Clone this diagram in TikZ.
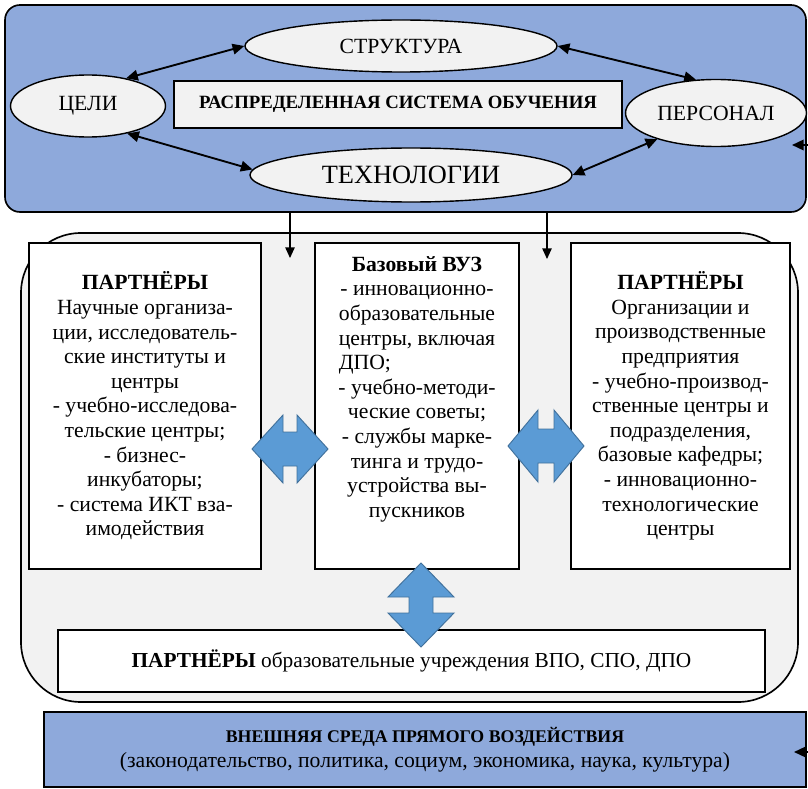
\documentclass[tikz,border=0pt]{standalone}
\usepackage{fontspec}
\setmainfont{Liberation Serif}
\usetikzlibrary{shapes.geometric,arrows.meta,positioning}

\definecolor{frameblue}{RGB}{142,169,219}
\definecolor{paleg}{RGB}{242,242,242}
\definecolor{arrowblue}{RGB}{91,155,213}
\definecolor{arrowedge}{RGB}{65,113,156}

\newlength\dpow

\tikzset{
  goal/.style={ellipse, draw, line width=1.2pt, fill=paleg, inner sep=0pt, font=\fontsize{18.5}{20}\selectfont},
  part/.style={rectangle, draw, line width=1.6pt, fill=white},
  link/.style={{Triangle[length=10pt,width=9pt]}-{Triangle[length=10pt,width=9pt]}, line width=1.6pt},
  feed/.style={-{Triangle[length=9pt,width=8pt]}, line width=1pt},
  blockarrow/.style={fill=arrowblue, draw=arrowedge, line width=0.8pt},
  txt/.style={align=center, inner sep=0pt, font=\fontsize{18.5}{21}\selectfont},
}

\begin{document}
\begin{tikzpicture}[x=0.03cm, y=-0.03cm]

	\def \px {0.03cm}
	\useasboundingbox (0,0) rectangle (808,789);

	% upper block: the distributed learning system
	\node (dso) [draw, rounded corners=0.45cm, line width=1.4pt, fill=frameblue, minimum width=801*\px, minimum height=207*\px] at (405.5,108.5) {};

	\node (str) [goal, minimum width=312*\px, minimum height=52*\px] at (401,46) {СТРУКТУРА};
	\node (cel) [goal, minimum width=155*\px, minimum height=62*\px] at (88,106) {ЦЕЛИ};
	\node (per) [goal, minimum width=181*\px, minimum height=67*\px] at (716,113) {ПЕРСОНАЛ};
	\node (tech) [goal, minimum width=322*\px, minimum height=54*\px, font=\fontsize{22.5}{24}\selectfont] at (411,175) {ТЕХНОЛОГИИ};
	\node (dls) [draw, fill=paleg, line width=1.4pt, minimum width=448*\px, minimum height=47*\px, font=\bfseries\fontsize{16}{17}\selectfont] at (398,104.5) {РАСПРЕДЕЛЕННАЯ СИСТЕМА ОБУЧЕНИЯ};

	\draw [link] (cel.36) -- (str.west);
	\draw [link] (str.east) -- (per.121);
	\draw [link] (cel.-35) -- (tech.178);
	\draw [link] (tech.east) -- (per.204);

	% middle block: university and its partners
	\node (net) [draw, fill=paleg, line width=1.4pt, rounded corners=1.8cm, minimum width=777*\px, minimum height=469*\px] at (409.5,467.5) {};

	\node (lpart) [part, minimum width=232*\px, minimum height=326*\px] at (145,406) {};
	\node (vuz) [part, minimum width=204*\px, minimum height=326*\px] at (417,406) {};
	\node (rpart) [part, minimum width=219*\px, minimum height=326*\px] at (680.5,406) {};

	\node (ltxt) [txt] at (lpart.center) {\textbf{ПАРТНЁРЫ}\\Научные организа-\\ции, исследователь-\\ские институты и\\центры\\- учебно-исследова-\\тельские центры;\\- бизнес-\\инкубаторы;\\- система ИКТ вза-\\имодействия};
	\node (vtxt) [txt, below=0.42cm of vuz.north] {\textbf{Базовый ВУЗ}\\- инновационно-\\образовательные\\центры, включая\\\settowidth{\dpow}{образовательные}\makebox[\dpow][l]{ДПО;}\\- учебно-методи-\\ческие советы;\\- службы марке-\\тинга и трудо-\\устройства вы-\\пускников};
	\node (rtxt) [txt] at (rpart.center) {\textbf{ПАРТНЁРЫ}\\Организации и\\производственные\\предприятия\\- учебно-производ-\\ственные центры и\\подразделения,\\базовые кафедры;\\- инновационно-\\технологические\\центры};

	\node (vpo) [part, minimum width=707*\px, minimum height=62*\px, font=\fontsize{18.2}{21}\selectfont] at (411.5,661) {\textbf{ПАРТНЁРЫ} образовательные учреждения ВПО, СПО, ДПО};

	% block arrows between the boxes
	\coordinate (la) at (290,449);
	\coordinate (ra) at (546,446);
	\coordinate (va) at (421,605);
	\foreach \c/\r/\l/\h/\s/\w in {la/0/38/7/17/34, ra/0/38/8/17/36, va/90/42/8/12/33}
		\draw [blockarrow, shift={(\c)}, rotate=\r] (-\l,0) -- (-\h,-\w) -- (-\h,-\s) -- (\h,-\s) -- (\h,-\w) -- (\l,0) -- (\h,\w) -- (\h,\s) -- (-\h,\s) -- (-\h,\w) -- cycle;

	% lower block: outer environment
	\node (env) [draw, fill=frameblue, line width=1.4pt, minimum width=762*\px, minimum height=75*\px, align=center, font=\fontsize{18.5}{21}\selectfont] at (425,749.5) {{\bfseries\fontsize{15.2}{21}\selectfont ВНЕШНЯЯ СРЕДА ПРЯМОГО ВОЗДЕЙСТВИЯ}\\(законодательство, политика, социум, экономика, наука, культура)};

	% feeds from the system down into the partner block
	\coordinate (gl) at (290,258);
	\coordinate (gr) at (547,259);
	\draw [feed] (dso.south -| gl) -- (gl);
	\draw [feed] (dso.south -| gr) -- (gr);

	% arrows coming in from the right
	\coordinate (far1) at (850,145);
	\coordinate (pin1) at (792,145);
	\coordinate (far2) at (850,752);
	\coordinate (pin2) at (794,752);
	\draw [link, -{Triangle[length=10pt,width=9pt]}] (far1) -- (pin1);
	\draw [link, -{Triangle[length=10pt,width=9pt]}] (far2) -- (pin2);

\end{tikzpicture}
\end{document}
